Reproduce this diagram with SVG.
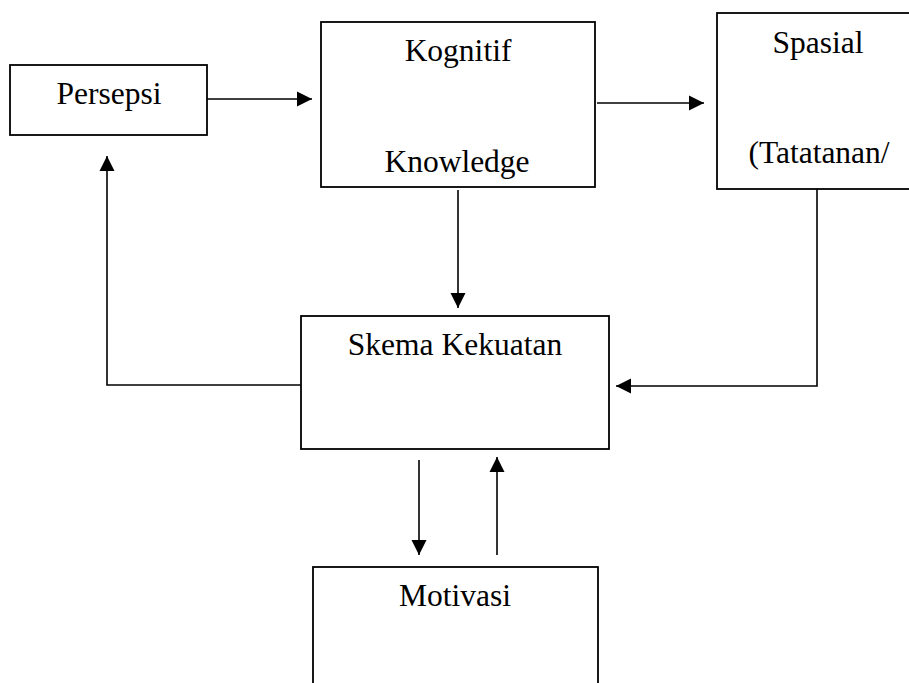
<svg xmlns="http://www.w3.org/2000/svg" width="909" height="683" viewBox="0 0 909 683">
<defs>
<style>
.box{fill:#fff;stroke:#000;stroke-width:1.8}
.ln{fill:none;stroke:#000;stroke-width:1.6}
.t{font-family:"Liberation Serif","Times New Roman",serif;font-size:31.5px;fill:#000;text-anchor:middle}
</style>
<marker id="ah" markerUnits="userSpaceOnUse" markerWidth="16" markerHeight="16" viewBox="0 0 16 16" refX="15" refY="8" orient="auto">
<path d="M0,0.5 L15,8 L0,15.5 Z" fill="#000"/>
</marker>
</defs>
<rect width="909" height="683" fill="#fff"/>
<g id="connectors">
<line class="ln" x1="207" y1="99" x2="312" y2="99" marker-end="url(#ah)"/>
<line class="ln" x1="597" y1="103" x2="704" y2="103" marker-end="url(#ah)"/>
<line class="ln" x1="458" y1="190" x2="458" y2="308" marker-end="url(#ah)"/>
<polyline class="ln" points="817,189 817,386 616,386" marker-end="url(#ah)"/>
<polyline class="ln" points="301,385 107,385 107,156" marker-end="url(#ah)"/>
<line class="ln" x1="419" y1="460" x2="419" y2="555" marker-end="url(#ah)"/>
<line class="ln" x1="497" y1="555" x2="497" y2="457" marker-end="url(#ah)"/>
</g>
<g id="persepsi">
<rect class="box" x="10" y="65" width="197" height="70"/>
<text class="t" x="109" y="104">Persepsi</text>
</g>
<g id="kognitif">
<rect class="box" x="321" y="22" width="274" height="165"/>
<text class="t" x="458" y="61">Kognitif</text>
<text class="t" x="457" y="172">Knowledge</text>
</g>
<g id="spasial">
<rect class="box" x="717" y="13" width="210" height="176"/>
<text class="t" x="818" y="53">Spasial</text>
<text class="t" x="819" y="163">(Tatatanan/</text>
</g>
<g id="skema">
<rect class="box" x="301" y="316" width="308" height="133"/>
<text class="t" x="455" y="355">Skema Kekuatan</text>
</g>
<g id="motivasi">
<rect class="box" x="313" y="567" width="285" height="130"/>
<text class="t" x="455" y="606">Motivasi</text>
</g>
</svg>
